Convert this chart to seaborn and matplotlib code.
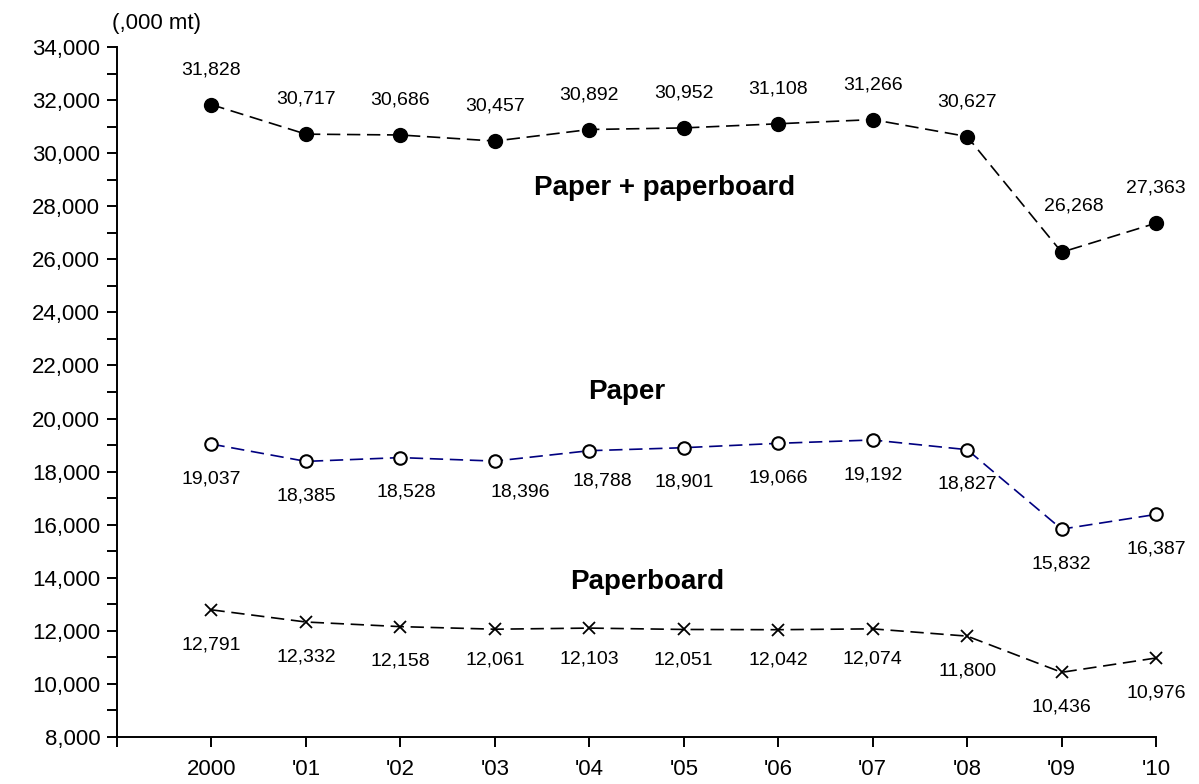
import matplotlib
matplotlib.use('Agg')
import matplotlib.pyplot as plt
from matplotlib.ticker import MultipleLocator, FuncFormatter
import seaborn as sns

# values ('000 mt)
years = ["2000", "'01", "'02", "'03", "'04", "'05", "'06", "'07", "'08", "'09", "'10"]
paper_board_total = [31828, 30717, 30686, 30457, 30892, 30952, 31108, 31266, 30627, 26268, 27363]
paper = [19037, 18385, 18528, 18396, 18788, 18901, 19066, 19192, 18827, 15832, 16387]
paperboard = [12791, 12332, 12158, 12061, 12103, 12051, 12042, 12074, 11800, 10436, 10976]

sns.set_theme(style='ticks')
plt.rcParams['font.family'] = ['Liberation Sans', 'DejaVu Sans']
plt.rcParams['text.color'] = 'black'
plt.rcParams['xtick.color'] = 'black'
plt.rcParams['ytick.color'] = 'black'

fig = plt.figure(figsize=(11.99, 7.84), dpi=100)
ax = fig.add_axes([0.0976, 0.06, 0.8666, 0.88])

pos = list(range(len(years)))
dash = (0, (8, 4))

sns.lineplot(x=pos, y=paper_board_total, ax=ax, color='black', lw=1.2, linestyle=dash, clip_on=False,
             marker='o', markersize=10, markerfacecolor='black', markeredgecolor='black', mew=1)
sns.lineplot(x=pos, y=paper, ax=ax, color='#000080', lw=1.2, linestyle=dash, clip_on=False,
             marker='o', markersize=9, markerfacecolor='white', markeredgecolor='black', mew=1.5)
sns.lineplot(x=pos, y=paperboard, ax=ax, color='black', lw=1.2, linestyle=dash, clip_on=False,
             marker='x', markersize=9, markeredgecolor='black', mew=1.3)

# data labels: top series above the points, the other two below
off = 25
tweak = {('t', 9): (9, 8), ('p', 2): (4, 0), ('p', 3): (18, 3), ('p', 4): (9, 3),
         ('b', 3): (0, 3), ('b', 4): (0, 3), ('b', 5): (0, 3), ('b', 6): (0, 3), ('b', 7): (0, 3)}
for key, vals, sign in [('t', paper_board_total, 1), ('p', paper, -1), ('b', paperboard, -1)]:
    for i, v in enumerate(vals):
        dx, dy = tweak.get((key, i), (0, 0))
        ax.annotate(f'{v:,}', (i, v), xytext=(dx, sign * off + dy), textcoords='offset points',
                    ha='center', va='center', fontsize=14, color='black')

ax.text(4.80, 28700, 'Paper + paperboard', ha='center', va='center', fontsize=20, fontweight='bold')
ax.text(4.40, 21000, 'Paper', ha='center', va='center', fontsize=20, fontweight='bold')
ax.text(4.61, 13850, 'Paperboard', ha='center', va='center', fontsize=20, fontweight='bold')

ax.set_xlim(-1, 10)
ax.set_ylim(8000, 34000)
ax.set_xticks(range(-1, len(years)))
ax.set_xticklabels([''] + years)
ax.yaxis.set_major_locator(MultipleLocator(2000))
ax.yaxis.set_minor_locator(MultipleLocator(1000))
ax.yaxis.set_major_formatter(FuncFormatter(lambda v, p: f'{v:,.0f}'))
ax.tick_params(axis='both', which='both', direction='out', length=7, width=1.4,
               color='black', labelcolor='black')
ax.tick_params(axis='y', labelsize=16, pad=5)
ax.tick_params(axis='x', labelsize=16, pad=9)
ax.set_xlabel('')
ax.set_ylabel('')

sns.despine(ax=ax)
for s in ['left', 'bottom']:
    ax.spines[s].set_linewidth(1.4)
    ax.spines[s].set_color('black')

fig.text(156 / 1199, 1 - 23 / 784, '(,000 mt)', ha='center', va='center', fontsize=16)

fig.savefig('out.png', dpi=100)
